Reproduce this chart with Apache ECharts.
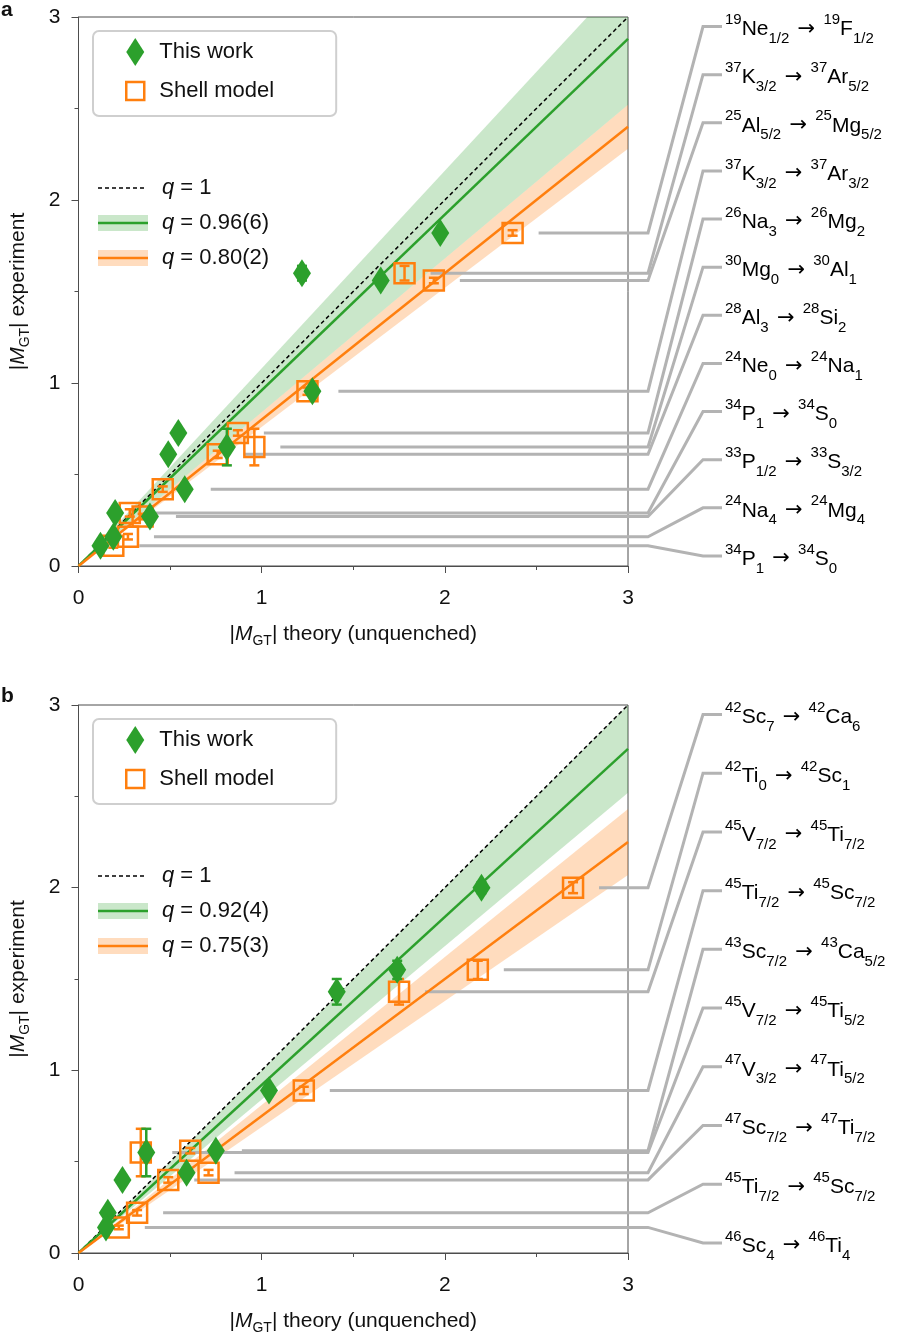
<!DOCTYPE html>
<html>
<head>
<meta charset="utf-8">
<script src="https://cdn.jsdelivr.net/npm/echarts@6/dist/echarts.min.js"></script>
<style>
html, body { margin: 0; padding: 0; background: #fff; }
#chart { width: 900px; height: 1339px; }
</style>
</head>
<body>
<div id="chart"></div>
<script>
// panel a: light nuclei
const aTransitions = [
    ['19', 'Ne', '1/2', '19', 'F', '1/2'],
    ['37', 'K', '3/2', '37', 'Ar', '5/2'],
    ['25', 'Al', '5/2', '25', 'Mg', '5/2'],
    ['37', 'K', '3/2', '37', 'Ar', '3/2'],
    ['26', 'Na', '3', '26', 'Mg', '2'],
    ['30', 'Mg', '0', '30', 'Al', '1'],
    ['28', 'Al', '3', '28', 'Si', '2'],
    ['24', 'Ne', '0', '24', 'Na', '1'],
    ['34', 'P', '1', '34', 'S', '0'],
    ['33', 'P', '1/2', '33', 'S', '3/2'],
    ['24', 'Na', '4', '24', 'Mg', '4'],
    ['34', 'P', '1', '34', 'S', '0']
]
const aExperiment = [1.82, 1.60, 1.56, 0.955, 0.727, 0.65, 0.61, 0.42, 0.29, 0.27, 0.16, 0.11]
const aError = [0.015, 0.04, 0.015, 0.02, 0.015, 0.10, 0.02, 0.015, 0.02, 0.015, 0.015, 0.01]
const aThisWork = [1.975, 1.22, 1.65, 1.277, 0.545, 0.81, 0.49, 0.58, 0.20, 0.39, 0.19, 0.12]
const aShellModel = [2.37, 1.78, 1.94, 1.25, 0.87, 0.96, 0.76, 0.46, 0.28, 0.35, 0.27, 0.19]
const aQThisWork = [0.96, 0.06]
const aQShellModel = [0.80, 0.02]

// panel b: pf-shell nuclei
const bTransitions = [
    ['42', 'Sc', '7', '42', 'Ca', '6'],
    ['42', 'Ti', '0', '42', 'Sc', '1'],
    ['45', 'V', '7/2', '45', 'Ti', '7/2'],
    ['45', 'Ti', '7/2', '45', 'Sc', '7/2'],
    ['43', 'Sc', '7/2', '43', 'Ca', '5/2'],
    ['45', 'V', '7/2', '45', 'Ti', '5/2'],
    ['47', 'V', '3/2', '47', 'Ti', '5/2'],
    ['47', 'Sc', '7/2', '47', 'Ti', '7/2'],
    ['45', 'Ti', '7/2', '45', 'Sc', '7/2'],
    ['46', 'Sc', '4', '46', 'Ti', '4']
]
const bExperiment = [2.00, 1.55, 1.43, 0.89, 0.56, 0.55, 0.44, 0.40, 0.22, 0.14]
const bError = [0.03, 0.05, 0.07, 0.02, 0.015, 0.13, 0.015, 0.015, 0.015, 0.01]
const bThisWork = [2.20, 1.74, 1.41, 1.04, 0.75, 0.37, 0.59, 0.24, 0.16, 0.15]
const bShellModel = [2.70, 2.18, 1.75, 1.23, 0.61, 0.34, 0.71, 0.49, 0.32, 0.22]
const bQThisWork = [0.92, 0.04]
const bQShellModel = [0.75, 0.03]

const axisTicks = [0, 1, 2, 3]

const GREEN = '#2ca02c'
const ORANGE = '#ff7f0e'
const GREEN_BAND = 'rgba(44,160,44,0.25)'
const ORANGE_BAND = 'rgba(255,127,14,0.27)'
const CONNECTOR = '#b3b3b3'
const AXIS = '#4d4d4d'
const FONT = 'Liberation Sans'
const GRID_TOPS = [17, 705]
const GRID_HEIGHTS = [549, 548]
const LABEL_TOP = 2.948
const LABEL_BOTTOM = 0.055

const panels = [
    {transitions: aTransitions, experiment: aExperiment, error: aError, thisWork: aThisWork, shellModel: aShellModel, qThis: aQThisWork, qShell: aQShellModel},
    {transitions: bTransitions, experiment: bExperiment, error: bError, thisWork: bThisWork, shellModel: bShellModel, qThis: bQThisWork, qShell: bQShellModel}
]

const xMax = axisTicks[axisTicks.length - 1]

function qText(q) {
    // 0.96, 0.06 -> "0.96(6)"
    const unc = Math.round(q[1] * 100)
    return q[0].toFixed(2) + '(' + unc + ')'
}

const labelRich = {
    sup: {fontSize: 15, fontFamily: FONT, color: '#111', verticalAlign: 'top'},
    el: {fontSize: 21, fontFamily: FONT, color: '#111', lineHeight: 34, verticalAlign: 'middle'},
    sub: {fontSize: 15, fontFamily: FONT, color: '#111', verticalAlign: 'bottom'},
    ar: {fontSize: 21, fontFamily: 'DejaVu Sans', color: '#111', lineHeight: 34,
        verticalAlign: 'middle', width: 34, align: 'center'}
}

function transitionText(t) {
    return '{sup|' + t[0] + '}{el|' + t[1] + '}{sub|' + t[2] + '}{ar|\u2192}' +
        '{sup|' + t[3] + '}{el|' + t[4] + '}{sub|' + t[5] + '}'
}

function renderConnector(transitions) {
    return function (params, api) {
        const start = api.coord([api.value(0), api.value(1)])
        const end = api.coord([xMax, api.value(2)])
        const right = end[0]
        const points = [
            [start[0] + 26, start[1]],
            [right + 20, start[1]],
            [right + 75, end[1]],
            [right + 94, end[1]]
        ]
        return {
            type: 'group',
            children: [
                {
                    type: 'polyline',
                    shape: {points: points},
                    style: {stroke: CONNECTOR, lineWidth: 3, fill: null}
                },
                {
                    type: 'text',
                    style: {
                        x: right + 97,
                        y: end[1] + 3,
                        text: transitionText(transitions[params.dataIndex]),
                        rich: labelRich,
                        align: 'left',
                        verticalAlign: 'middle'
                    }
                }
            ]
        }
    }
}

function renderErrorBar(color) {
    return function (params, api) {
        const x = api.value(0)
        const y = api.value(1)
        const e = api.value(2)
        const hi = api.coord([x, y + e])
        const lo = api.coord([x, y - e])
        const w = 5
        const style = {stroke: color, lineWidth: 2.5}
        return {
            type: 'group',
            children: [
                {type: 'line', shape: {x1: hi[0], y1: hi[1], x2: lo[0], y2: lo[1]}, style: style},
                {type: 'line', shape: {x1: hi[0] - w, y1: hi[1], x2: hi[0] + w, y2: hi[1]}, style: style},
                {type: 'line', shape: {x1: lo[0] - w, y1: lo[1], x2: lo[0] + w, y2: lo[1]}, style: style}
            ]
        }
    }
}

// q +- 2 sigma wedge from the origin, cut at the top of the frame
function renderBand(color) {
    return function (params, api) {
        const lo = api.value(0)
        const hi = api.value(1)
        const pts = [[0, 0], [xMax, xMax * lo]]
        if (xMax * hi > xMax) {
            pts.push([xMax, xMax])
            pts.push([xMax / hi, xMax])
        } else {
            pts.push([xMax, xMax * hi])
        }
        return {
            type: 'polygon',
            shape: {points: pts.map(p => api.coord(p))},
            style: {fill: color}
        }
    }
}

function bandSeries(p, q, color) {
    return {
        type: 'custom', xAxisIndex: p, yAxisIndex: p, silent: true,
        data: [[q[0] - 2 * q[1], q[0] + 2 * q[1]]],
        renderItem: renderBand(color),
        z: 1
    }
}

function fitLine(p, slope, color, width, dashed) {
    return {
        type: 'line', xAxisIndex: p, yAxisIndex: p,
        data: [[0, 0], [xMax, xMax * slope]],
        showSymbol: false, silent: true,
        lineStyle: {color: color, width: width, type: dashed ? [4, 3] : 'solid'},
        z: 2
    }
}

function buildPanel(p) {
    const panel = panels[p]
    const n = panel.experiment.length
    const step = (LABEL_TOP - LABEL_BOTTOM) / (n - 1)
    const greenPoints = panel.experiment.map((y, i) => [panel.thisWork[i], y, panel.error[i]])
    const orangePoints = panel.experiment.map((y, i) => [panel.shellModel[i], y, panel.error[i]])
    const connectors = panel.experiment.map((y, i) =>
        [Math.max(panel.thisWork[i], panel.shellModel[i]), y, LABEL_TOP - step * i])

    return [
        bandSeries(p, panel.qShell, ORANGE_BAND),
        bandSeries(p, panel.qThis, GREEN_BAND),
        fitLine(p, 1, '#000', 1.5, true),
        fitLine(p, panel.qThis[0], GREEN, 2.5, false),
        fitLine(p, panel.qShell[0], ORANGE, 2.5, false),
        {
            type: 'custom', xAxisIndex: p, yAxisIndex: p, silent: true, clip: false,
            data: connectors,
            renderItem: renderConnector(panel.transitions),
            z: 2
        },
        {
            type: 'custom', xAxisIndex: p, yAxisIndex: p, silent: true,
            data: orangePoints, renderItem: renderErrorBar(ORANGE), z: 3
        },
        {
            name: 'Shell model', type: 'scatter', xAxisIndex: p, yAxisIndex: p,
            data: orangePoints, symbol: 'rect', symbolSize: 20,
            itemStyle: {color: 'rgba(255,255,255,0)', borderColor: ORANGE, borderWidth: 2.5, opacity: 1},
            z: 3
        },
        {
            type: 'custom', xAxisIndex: p, yAxisIndex: p, silent: true,
            data: greenPoints, renderItem: renderErrorBar(GREEN), z: 4
        },
        {
            name: 'This work', type: 'scatter', xAxisIndex: p, yAxisIndex: p,
            data: greenPoints, symbol: 'diamond', symbolSize: [18, 28],
            itemStyle: {color: GREEN, opacity: 1},
            z: 4
        }
    ]
}

const nameRich = {
    i: {fontSize: 21, fontFamily: FONT, fontStyle: 'italic', color: '#111', lineHeight: 28},
    s: {fontSize: 14, fontFamily: FONT, color: '#111', verticalAlign: 'bottom'}
}

function xAxis(p) {
    return {
        gridIndex: p, type: 'value', min: 0, max: xMax, interval: 1,
        axisLine: {show: true, onZero: false, lineStyle: {color: AXIS, width: 1}},
        axisTick: {show: true, length: 7, lineStyle: {color: AXIS}},
        minorTick: {show: true, splitNumber: 2, length: 4, lineStyle: {color: AXIS}},
        splitLine: {show: false},
        axisLabel: {fontSize: 21, color: '#111', fontFamily: FONT, margin: 22},
        name: '|{i|M}{s|GT}| theory (unquenched)',
        nameLocation: 'middle', nameGap: 54,
        nameTextStyle: {fontSize: 21, color: '#111', fontFamily: FONT, rich: nameRich}
    }
}

function yAxis(p) {
    return {
        gridIndex: p, type: 'value', min: 0, max: xMax, interval: 1,
        axisLine: {show: true, onZero: false, lineStyle: {color: AXIS, width: 1}},
        axisTick: {show: true, length: 7, lineStyle: {color: AXIS}},
        minorTick: {show: true, splitNumber: 2, length: 4, lineStyle: {color: AXIS}},
        splitLine: {show: false},
        axisLabel: {fontSize: 21, color: '#111', fontFamily: FONT, margin: 18},
        name: '|{i|M}{s|GT}| experiment',
        nameLocation: 'middle', nameGap: 46,
        nameTextStyle: {fontSize: 21, color: '#111', fontFamily: FONT, rich: nameRich}
    }
}

function boxLegend(p) {
    return {
        orient: 'vertical', left: 93, top: GRID_TOPS[p] + 14,
        selectedMode: false,
        borderColor: '#cfcfcf', borderWidth: 2, borderRadius: 6,
        padding: [7, 62, 14, 32],
        itemWidth: 18, itemHeight: 28, itemGap: 14,
        textStyle: {fontSize: 22, color: '#111', fontFamily: FONT, padding: [0, 0, 0, 10]},
        data: [
            {name: 'This work', icon: 'diamond', itemStyle: {color: GREEN, borderWidth: 0}},
            {name: 'Shell model', icon: 'path://M0,0H10V10H0Z',
                itemStyle: {color: 'rgba(255,255,255,0)', borderColor: ORANGE, borderWidth: 2.5}}
        ]
    }
}

function fitLegend(p) {
    const panel = panels[p]
    const top = GRID_TOPS[p]
    const rows = [top + 171, top + 206, top + 241]
    const textStyle = (y, str) => ({
        type: 'text',
        style: {
            x: 162, y: y, text: str, align: 'left', verticalAlign: 'middle',
            fontSize: 22, fontFamily: FONT, fill: '#111',
            rich: {q: {fontSize: 22, fontFamily: FONT, fontStyle: 'italic', fill: '#111'}}
        }
    })
    return [
        {type: 'line', shape: {x1: 98, y1: rows[0], x2: 147, y2: rows[0]},
            style: {stroke: '#000', lineWidth: 1.5, lineDash: [4, 3]}},
        textStyle(rows[0], '{q|q} = 1'),
        {type: 'rect', shape: {x: 98, y: rows[1] - 8, width: 50, height: 16}, style: {fill: GREEN_BAND}},
        {type: 'line', shape: {x1: 98, y1: rows[1], x2: 148, y2: rows[1]}, style: {stroke: GREEN, lineWidth: 2.5}},
        textStyle(rows[1], '{q|q} = ' + qText(panel.qThis)),
        {type: 'rect', shape: {x: 98, y: rows[2] - 8, width: 50, height: 16}, style: {fill: ORANGE_BAND}},
        {type: 'line', shape: {x1: 98, y1: rows[2], x2: 148, y2: rows[2]}, style: {stroke: ORANGE, lineWidth: 2.5}},
        textStyle(rows[2], '{q|q} = ' + qText(panel.qShell))
    ]
}

const chart = echarts.init(document.getElementById('chart'))

const option = {
    animation: false,
    backgroundColor: '#fff',
    grid: [0, 1].map(p => ({
        left: 78, top: GRID_TOPS[p], width: 550, height: GRID_HEIGHTS[p],
        show: true, borderColor: AXIS, borderWidth: 1, backgroundColor: 'rgba(0,0,0,0)'
    })),
    xAxis: [xAxis(0), xAxis(1)],
    yAxis: [yAxis(0), yAxis(1)],
    legend: [boxLegend(0), boxLegend(1)],
    graphic: [
        {type: 'text', left: 1, top: 0, style: {text: 'a', fontSize: 21, fontWeight: 'bold', fontFamily: FONT, fill: '#111'}},
        {type: 'text', left: 1, top: 686, style: {text: 'b', fontSize: 21, fontWeight: 'bold', fontFamily: FONT, fill: '#111'}},
        ...fitLegend(0),
        ...fitLegend(1)
    ],
    series: [...buildPanel(0), ...buildPanel(1)]
}

chart.setOption(option)
</script>
</body>
</html>
